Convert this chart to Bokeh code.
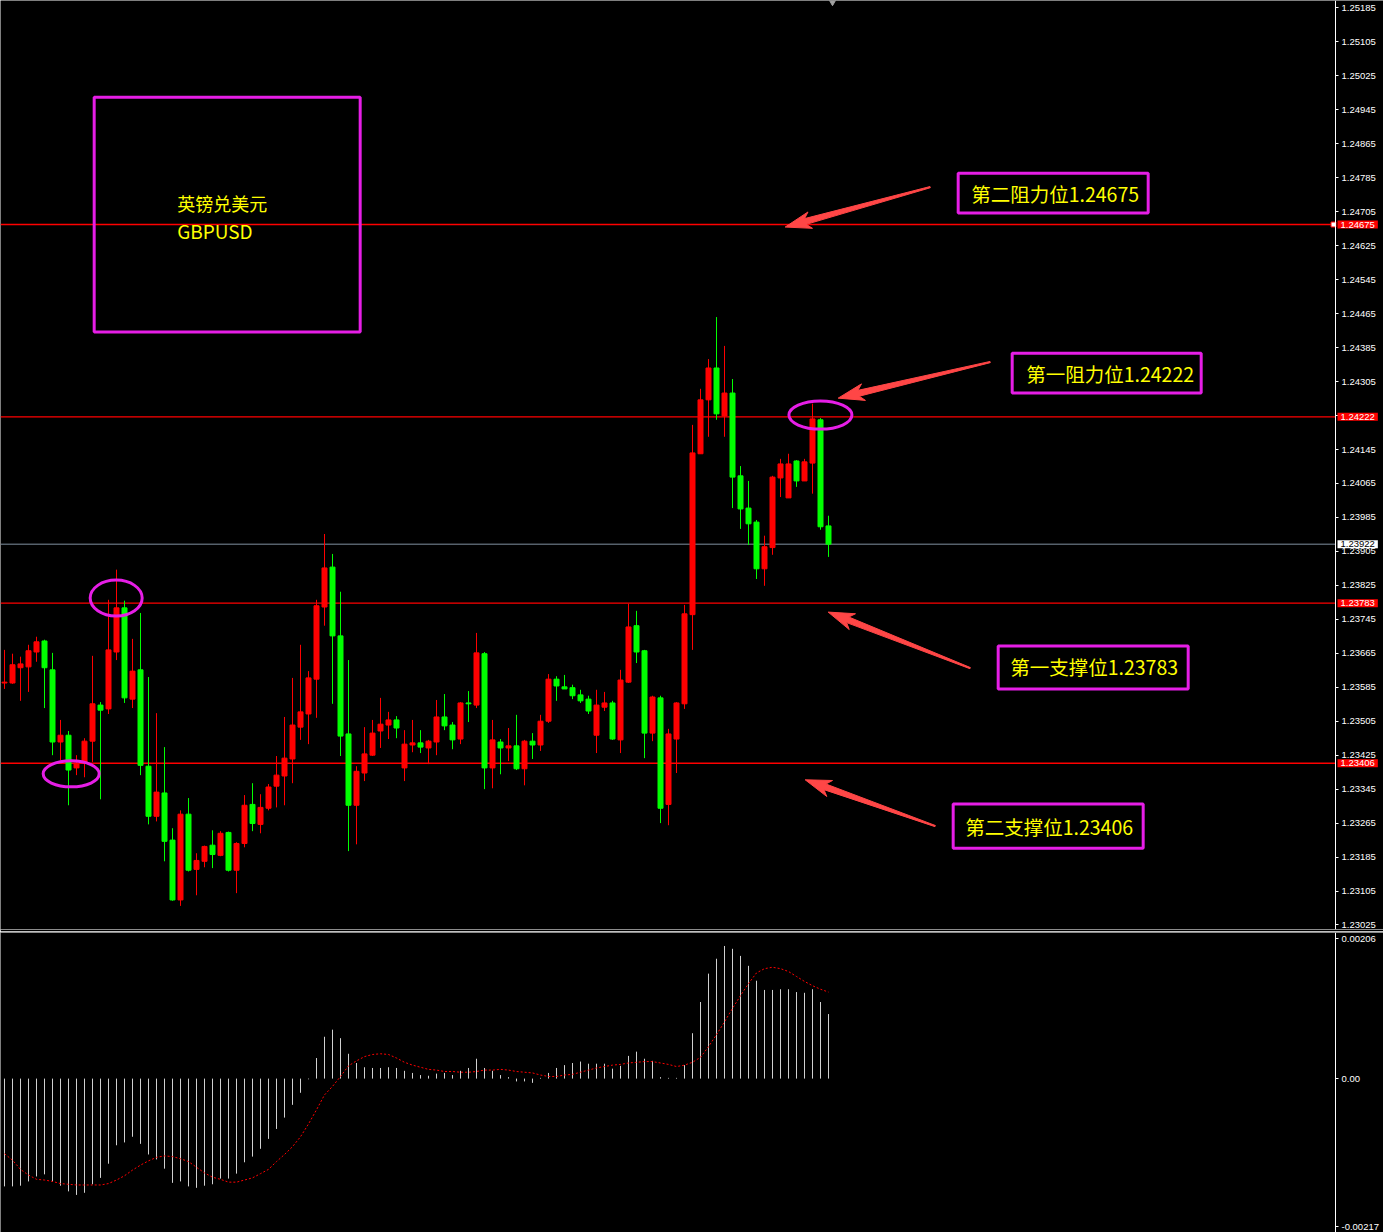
import math
from bokeh.plotting import figure
from bokeh.models import (Range1d, FixedTicker, PrintfTickFormatter, Span, Label,
                          ColumnDataSource)
from bokeh.layouts import column
from bokeh.core.properties import value
from bokeh.embed import file_html
from bokeh.resources import INLINE

# ---------------- GBPUSD bars (oldest -> newest) ----------------
opens = [1.23595, 1.23595, 1.23631, 1.23633, 1.23668, 1.23694, 1.23626, 1.23456, 1.23472, 1.23395,
         1.23406, 1.23458, 1.23543, 1.23534, 1.23668, 1.23772, 1.23557, 1.23626, 1.23399, 1.23281,
         1.23336, 1.23225, 1.23084, 1.23286, 1.23156, 1.23175, 1.23213, 1.23189, 1.23243, 1.23154,
         1.23217, 1.23309, 1.23262, 1.23300, 1.23352, 1.23376, 1.23416, 1.23491, 1.23522, 1.23604,
         1.23774, 1.23868, 1.23706, 1.23475, 1.23307, 1.23383, 1.23425, 1.23482, 1.23496, 1.23508,
         1.23395, 1.23449, 1.23454, 1.23442, 1.23456, 1.23515, 1.23496, 1.23463, 1.23548, 1.23543,
         1.23664, 1.23395, 1.23456, 1.23442, 1.23447, 1.23393, 1.23458, 1.23449, 1.23505, 1.23604,
         1.23586, 1.23584, 1.23567, 1.23557, 1.23472, 1.23538, 1.23548, 1.23461, 1.23597, 1.23730,
         1.23671, 1.23477, 1.23560, 1.23309, 1.23463, 1.23546, 1.23756, 1.24135, 1.24262, 1.24337,
         1.24224, 1.24278, 1.24083, 1.24007, 1.23974, 1.23864, 1.23914, 1.24078, 1.24031, 1.24118,
         1.24071, 1.24113, 1.24215, 1.23965]
highs = [1.23673, 1.23664, 1.23657, 1.23685, 1.23704, 1.23697, 1.23666, 1.23508, 1.23482, 1.23425,
         1.23465, 1.23659, 1.23550, 1.23791, 1.23862, 1.23789, 1.23699, 1.23760, 1.23609, 1.23524,
         1.23444, 1.23253, 1.23295, 1.23324, 1.23194, 1.23212, 1.23248, 1.23246, 1.23245, 1.23220,
         1.23331, 1.23359, 1.23333, 1.23357, 1.23423, 1.23515, 1.23607, 1.23685, 1.23623, 1.23791,
         1.23946, 1.23899, 1.23810, 1.23649, 1.23399, 1.23491, 1.23508, 1.23560, 1.23527, 1.23517,
         1.23484, 1.23508, 1.23484, 1.23461, 1.23555, 1.23569, 1.23503, 1.23550, 1.23576, 1.23713,
         1.23668, 1.23508, 1.23463, 1.23489, 1.23520, 1.23461, 1.23477, 1.23520, 1.23616, 1.23611,
         1.23614, 1.23591, 1.23579, 1.23565, 1.23579, 1.23574, 1.23553, 1.23626, 1.23782, 1.23765,
         1.23673, 1.23565, 1.23565, 1.23487, 1.23550, 1.23779, 1.24203, 1.24288, 1.24358, 1.24457,
         1.24389, 1.24311, 1.24106, 1.24071, 1.23979, 1.23942, 1.24083, 1.24123, 1.24135, 1.24120,
         1.24123, 1.24253, 1.24219, 1.23989]
lows = [1.23581, 1.23593, 1.23553, 1.23574, 1.23645, 1.23536, 1.23425, 1.23413, 1.23307, 1.23378,
        1.23373, 1.23409, 1.23321, 1.23522, 1.23649, 1.23548, 1.23536, 1.23378, 1.23262, 1.23269,
        1.23175, 1.23082, 1.23070, 1.23151, 1.23095, 1.23161, 1.23159, 1.23187, 1.23151, 1.23100,
        1.23208, 1.23246, 1.23241, 1.23295, 1.23302, 1.23307, 1.23359, 1.23461, 1.23451, 1.23513,
        1.23730, 1.23546, 1.23423, 1.23199, 1.23215, 1.23364, 1.23423, 1.23442, 1.23463, 1.23465,
        1.23364, 1.23432, 1.23430, 1.23404, 1.23425, 1.23484, 1.23439, 1.23451, 1.23503, 1.23536,
        1.23345, 1.23347, 1.23380, 1.23411, 1.23390, 1.23354, 1.23416, 1.23435, 1.23501, 1.23553,
        1.23581, 1.23557, 1.23548, 1.23522, 1.23430, 1.23529, 1.23461, 1.23430, 1.23595, 1.23642,
        1.23418, 1.23458, 1.23265, 1.23260, 1.23383, 1.23534, 1.23673, 1.24135, 1.24175, 1.24215,
        1.24175, 1.24007, 1.23958, 1.23920, 1.23840, 1.23824, 1.23897, 1.24033, 1.24031, 1.24057,
        1.24071, 1.24041, 1.23956, 1.23892]
closes = [1.23597, 1.23638, 1.23640, 1.23671, 1.23692, 1.23631, 1.23456, 1.23472, 1.23390, 1.23406,
          1.23458, 1.23546, 1.23531, 1.23673, 1.23772, 1.23560, 1.23623, 1.23401, 1.23281, 1.23338,
          1.23222, 1.23084, 1.23286, 1.23154, 1.23177, 1.23210, 1.23191, 1.23241, 1.23154, 1.23217,
          1.23307, 1.23264, 1.23302, 1.23350, 1.23378, 1.23418, 1.23496, 1.23527, 1.23607, 1.23777,
          1.23866, 1.23706, 1.23470, 1.23307, 1.23387, 1.23428, 1.23477, 1.23498, 1.23508, 1.23489,
          1.23451, 1.23454, 1.23444, 1.23458, 1.23515, 1.23494, 1.23461, 1.23548, 1.23546, 1.23666,
          1.23395, 1.23461, 1.23442, 1.23447, 1.23393, 1.23458, 1.23449, 1.23505, 1.23604, 1.23588,
          1.23581, 1.23565, 1.23553, 1.23529, 1.23543, 1.23548, 1.23463, 1.23602, 1.23727, 1.23668,
          1.23477, 1.23562, 1.23300, 1.23475, 1.23548, 1.23758, 1.24137, 1.24262, 1.24337, 1.24229,
          1.24278, 1.24080, 1.24005, 1.23970, 1.23864, 1.23916, 1.24080, 1.24111, 1.24111, 1.24071,
          1.24116, 1.24217, 1.23963, 1.23922]

# ---------------- MACD(12,26,9) ----------------
macd_hist = [-0.00152, -0.00152, -0.00151, -0.00145, -0.00138, -0.00135, -0.00145, -0.00151, -0.00159, -0.00164,
             -0.00161, -0.00149, -0.00140, -0.00120, -0.00094, -0.00090, -0.00082, -0.00092, -0.00107, -0.00114,
             -0.00127, -0.00147, -0.00145, -0.00152, -0.00154, -0.00151, -0.00149, -0.00141, -0.00141, -0.00134,
             -0.00118, -0.00110, -0.00099, -0.00085, -0.00071, -0.00055, -0.00037, -0.00020, -0.00001, 0.00029,
             0.00059, 0.00069, 0.00057, 0.00035, 0.00022, 0.00016, 0.00015, 0.00015, 0.00016, 0.00015,
             0.00011, 0.00008, 0.00005, 0.00004, 0.00007, 0.00008, 0.00005, 0.00011, 0.00015, 0.00028,
             0.00015, 0.00011, 0.00005, 0.00002, -0.00004, -0.00004, -0.00006, 0.00001, 0.00008, 0.00015,
             0.00019, 0.00022, 0.00024, 0.00021, 0.00021, 0.00021, 0.00014, 0.00018, 0.00032, 0.00038,
             0.00028, 0.00025, 0.00002, 0.00001, 0.00001, 0.00019, 0.00064, 0.00108, 0.00148, 0.00169,
             0.00187, 0.00183, 0.00173, 0.00159, 0.00138, 0.00125, 0.00125, 0.00126, 0.00126, 0.00122,
             0.00121, 0.00126, 0.00108, 0.00091]
macd_signal = [-0.00106, -0.00115, -0.00128, -0.00136, -0.00142, -0.00143, -0.00145, -0.00148, -0.00149, -0.00150,
               -0.00150, -0.00150, -0.00150, -0.00148, -0.00143, -0.00137, -0.00129, -0.00122, -0.00116, -0.00111,
               -0.00109, -0.00110, -0.00113, -0.00117, -0.00125, -0.00133, -0.00139, -0.00142, -0.00146, -0.00146,
               -0.00143, -0.00140, -0.00134, -0.00128, -0.00117, -0.00107, -0.00096, -0.00082, -0.00064, -0.00044,
               -0.00023, -0.00011, 0.00003, 0.00018, 0.00025, 0.00031, 0.00034, 0.00035, 0.00034, 0.00029,
               0.00023, 0.00019, 0.00016, 0.00013, 0.00012, 0.00010, 0.00010, 0.00009, 0.00009, 0.00010,
               0.00012, 0.00012, 0.00013, 0.00012, 0.00010, 0.00009, 0.00008, 0.00005, 0.00003, 0.00003,
               0.00005, 0.00006, 0.00009, 0.00012, 0.00015, 0.00017, 0.00019, 0.00020, 0.00022, 0.00023,
               0.00024, 0.00024, 0.00022, 0.00020, 0.00017, 0.00019, 0.00023, 0.00030, 0.00045, 0.00062,
               0.00080, 0.00099, 0.00117, 0.00134, 0.00149, 0.00155, 0.00157, 0.00155, 0.00151, 0.00144,
               0.00137, 0.00131, 0.00126, 0.00122]

# price axis ticks and marked levels
price_ticks = [1.25185, 1.25105, 1.25025, 1.24945, 1.24865, 1.24785, 1.24705, 1.24625, 1.24545,
               1.24465, 1.24385, 1.24305, 1.24225, 1.24145, 1.24065, 1.23985, 1.23905, 1.23825,
               1.23745, 1.23665, 1.23585, 1.23505, 1.23425, 1.23345, 1.23265, 1.23185, 1.23105,
               1.23025]
resist2, resist1, support1, support2 = 1.24675, 1.24222, 1.23783, 1.23406
bid_price = 1.23922
level_names = ["第二阻力位", "第一阻力位", "第一支撑位", "第二支撑位"]
level_values = [resist2, resist1, support1, support2]

# ---------------- layout constants ----------------
CANVAS_W = 1383
AXIS_PX = 1335            # price scale sits at the right of the bar area
MAIN_H = 929
SUB_H = 300
X0 = -0.5
X1 = X0 + CANVAS_W / 8.0
AXIS_X = X0 + AXIS_PX / 8.0
PX_PER_PRICE = 42454.0
Y1 = 1.24675 + 224 / PX_PER_PRICE
Y0 = Y1 - MAIN_H / PX_PER_PRICE
XS = CANVAS_W / (X1 - X0)
YS = PX_PER_PRICE

BG = "#000000"
UP = "#ff0000"
DOWN = "#00ff00"
MAGENTA = "#e61ee6"
YELLOW = "#ffff00"
ARROW = "#ff4646"
AXIS_FONT = "Liberation Sans"
CJK = "Noto Sans CJK SC"


def style_axis(ax):
    ax.fixed_location = AXIS_X
    ax.axis_line_color = "#ffffff"
    ax.major_tick_line_color = "#ffffff"
    ax.major_tick_out = 3
    ax.major_tick_in = 0
    ax.minor_tick_line_color = None
    ax.major_label_text_color = "#ffffff"
    ax.major_label_text_font = AXIS_FONT
    ax.major_label_text_font_size = "9.5px"
    ax.major_label_standoff = 3


# ---------------- main price window ----------------
p = figure(frame_width=CANVAS_W, frame_height=MAIN_H, x_range=Range1d(X0, X1),
           y_range=Range1d(Y0, Y1), output_backend="svg", toolbar_location=None,
           x_axis_location=None, y_axis_location="right",
           min_border_left=0, min_border_top=0, min_border_bottom=2, min_border_right=0,
           background_fill_color=BG, border_fill_color=BG, outline_line_color=None)
p.xgrid.visible = False
p.ygrid.visible = False
style_axis(p.yaxis[0])
p.yaxis[0].ticker = FixedTicker(ticks=price_ticks)
p.yaxis[0].formatter = PrintfTickFormatter(format="%.5f")

idx = list(range(len(opens)))
colors = [UP if c >= o else DOWN for o, c in zip(opens, closes)]
src = ColumnDataSource(dict(
    x=idx, high=highs, low=lows,
    top=[max(o, c) for o, c in zip(opens, closes)],
    bottom=[min(o, c) for o, c in zip(opens, closes)],
    color=colors))

# horizontal levels across the bar area
n_lv = len(level_values)
p.segment(x0=[X0] * n_lv, x1=[AXIS_X] * n_lv, y0=level_values, y1=level_values,
          line_color=UP, line_width=1.3)
p.segment(x0=[X0], x1=[AXIS_X], y0=[bid_price], y1=[bid_price],
          line_color="#8090a0", line_width=1)
# handle of the selected level line
p.scatter(x=[AXIS_X - 0.25], y=[resist2], marker="square", size=5,
          fill_color="#ffffff", line_color=UP, line_width=1)

p.segment(x0="x", y0="low", x1="x", y1="high", color="color", line_width=1, source=src)
p.vbar(x="x", top="top", bottom="bottom", width=0.625, fill_color="color",
       line_color="color", line_width=1, source=src)

# chart shift marker
p.scatter(x=[103.5], y=[Y1], marker="inverted_triangle", size=9, color="#a0a0a0")

# title box
p.quad(left=[11.21], right=[44.46], bottom=[1.24422], top=[1.24975],
       fill_color=None, line_color=MAGENTA, line_width=3)
p.text(x=[21.585], y=[1.24726], text=["英镑兑美元"],
       text_font=value(CJK), text_font_size="18px", text_color=YELLOW,
       text_baseline="middle", text_align="left")
p.text(x=[21.585], y=[1.24662], text=["GBPUSD"],
       text_font=value(CJK), text_font_size="19px", text_color=YELLOW,
       text_baseline="middle", text_align="left")

# level call-out boxes
box_left = [119.21, 125.96, 124.21, 118.585]
box_right = [142.96, 149.585, 147.96, 142.335]
box_top = [1.24796, 1.24372, 1.23682, 1.23310]
box_bottom = [1.24702, 1.24278, 1.23581, 1.23206]
text_x = [120.835, 127.71, 125.71, 120.085]
text_y = [1.24747, 1.24325, 1.23633, 1.23258]
p.quad(left=box_left, right=box_right, bottom=box_bottom, top=box_top,
       fill_color=None, line_color=MAGENTA, line_width=3)
p.text(x=text_x, y=text_y,
       text=[f"{n}{v:.5f}" for n, v in zip(level_names, level_values)],
       text_font=value(CJK), text_font_size="19.5px", text_color=YELLOW,
       text_baseline="middle", text_align="left")

# circled highs/lows
p.ellipse(x=[13.96, 8.335, 101.99], y=[1.23795, 1.23381, 1.24226],
          width=[52, 56, 63], height=[36, 26, 28],
          width_units="screen", height_units="screen",
          fill_color=None, line_color=MAGENTA, line_width=3)


# tapered arrows pointing at the levels
def arrow_shape(tail, tip, head_len=21, head_half=8.5, neck_half=3.0, tail_half=0.6, sweep=5):
    tx, ty = tail[0] * XS, tail[1] * YS
    hx, hy = tip[0] * XS, tip[1] * YS
    dx, dy = hx - tx, hy - ty
    ln = math.hypot(dx, dy)
    ux, uy = dx / ln, dy / ln
    nx, ny = -uy, ux
    kx, ky = hx - ux * head_len, hy - uy * head_len
    bx, by = kx - ux * sweep, ky - uy * sweep
    pts = [(tx + nx * tail_half, ty + ny * tail_half),
           (kx + nx * neck_half, ky + ny * neck_half),
           (bx + nx * head_half, by + ny * head_half),
           (hx, hy),
           (bx - nx * head_half, by - ny * head_half),
           (kx - nx * neck_half, ky - ny * neck_half),
           (tx - nx * tail_half, ty - ny * tail_half)]
    return [q[0] / XS for q in pts], [q[1] / YS for q in pts]


arrow_tails = [(115.71, 1.24763), (123.21, 1.24351), (120.71, 1.23630), (116.335, 1.23258)]
arrow_tips = [(97.585, 1.24669), (104.21, 1.24266), (102.96, 1.23762), (100.085, 1.23367)]
axs, ays = [], []
for t, h in zip(arrow_tails, arrow_tips):
    ax_, ay_ = arrow_shape(t, h)
    axs.append(ax_)
    ays.append(ay_)
p.patches(xs=axs, ys=ays, fill_color=ARROW, line_color=ARROW, line_width=1)

# price tags on the scale, painted over the tick labels
TAG_PAD = dict(left=3, right=3, top=1, bottom=1)
for lv in level_values:
    p.add_layout(Label(x=AXIS_PX + 2, y=lv, x_units="screen", text=f"{lv:.5f}",
                       text_color="#ffffff", background_fill_color="#ff0000",
                       text_font=AXIS_FONT, text_font_size="9.5px", level="overlay",
                       text_baseline="middle", text_align="left", padding=TAG_PAD))
p.add_layout(Label(x=AXIS_PX + 2, y=bid_price, x_units="screen", text=f"{bid_price:.5f}",
                   text_color="#000000", background_fill_color="#ffffff",
                   text_font=AXIS_FONT, text_font_size="9.5px", level="overlay",
                   text_baseline="middle", text_align="left", padding=TAG_PAD))
p.add_layout(Span(location=Y0, dimension="width", line_color="#d8d8d8", line_width=1))

# ---------------- MACD window ----------------
m = figure(frame_width=CANVAS_W, frame_height=SUB_H, x_range=p.x_range,
           y_range=Range1d(-0.00217, 0.00206), output_backend="svg", toolbar_location=None,
           x_axis_location=None, y_axis_location="right",
           min_border_left=0, min_border_top=1, min_border_bottom=0, min_border_right=0,
           background_fill_color=BG, border_fill_color=BG, outline_line_color=None)
m.xgrid.visible = False
m.ygrid.visible = False
style_axis(m.yaxis[0])
m.yaxis[0].ticker = FixedTicker(ticks=[0.00197, 0.0, -0.00209])
m.yaxis[0].major_label_overrides = {0.00197: "0.00206", 0.0: "0.00", -0.00209: "-0.00217"}

m.segment(x0=idx, y0=[0.0] * len(idx), x1=idx, y1=macd_hist, line_color="#d0d0d0", line_width=1)
m.line(x=idx, y=macd_signal, line_color="#ff0000", line_width=1, line_dash="2 2")
m.add_layout(Span(location=0.00206, dimension="width", line_color="#d8d8d8", line_width=1))

layout = column(p, m, spacing=0)
with open("out.html", "w") as f:
    f.write(file_html(layout, INLINE))
